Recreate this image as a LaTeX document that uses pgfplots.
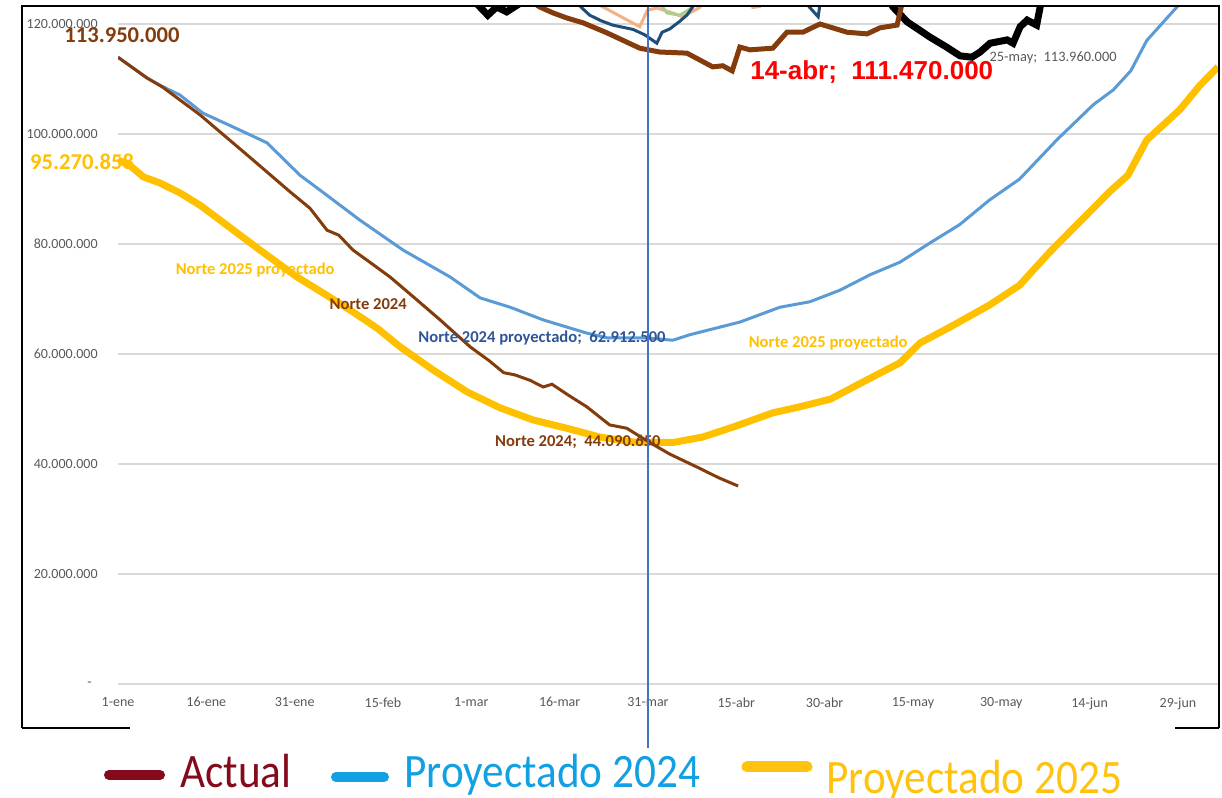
\documentclass[border=0pt]{standalone}
\usepackage{fontspec}
\setmainfont{Carlito}
\newfontfamily\legfont[FakeStretch=0.9]{Carlito}
\newfontfamily\arialb{Liberation Sans}
\usepackage{pgfplots}
\pgfplotsset{compat=1.18}
\definecolor{brownN}{HTML}{843C0C}
\definecolor{blueP}{HTML}{5B9BD5}
\definecolor{goldP}{HTML}{FFC000}
\definecolor{dkblue}{HTML}{1F4E79}
\definecolor{lblue}{HTML}{2F5597}
\definecolor{orng}{HTML}{F4B183}
\definecolor{grn}{HTML}{A9D18E}
\definecolor{todayblue}{HTML}{4472C4}
\definecolor{gridc}{HTML}{D9D9D9}
\definecolor{tickc}{HTML}{595959}
\definecolor{legred}{HTML}{840A1C}
\definecolor{legblue}{HTML}{12A0E3}
\definecolor{leggold}{HTML}{FFC20E}
\begin{document}
\begin{tikzpicture}
\path[use as bounding box] (0,0) rectangle (611pt,399pt);
\begin{axis}[
  at={(59pt,57pt)}, anchor=south west,
  scale only axis, width=550pt, height=339pt,
  xmin=0, xmax=186.8, ymin=0, ymax=123.27e6,
  clip mode=individual,
  axis line style={draw=none},
  major tick length=0pt,
  ymajorgrids=true,
  grid style={gridc, line width=0.6pt},
  ytick={0,20e6,40e6,60e6,80e6,100e6,120e6},
  yticklabels={-\hspace*{3pt},20.000.000,40.000.000,60.000.000,80.000.000,100.000.000,120.000.000},
  xtick={0,15,30,45,60,75,90,105,120,135,150,165,180},
  xticklabels={1-ene,16-ene,31-ene,15-feb,1-mar,16-mar,31-mar,15-abr,30-abr,15-may,30-may,14-jun,29-jun},
  yticklabel style={font=\fontsize{7}{8}\selectfont, text=tickc, anchor=east, inner sep=0pt, xshift=-10pt},
  xticklabel style={font=\fontsize{7}{8}\selectfont, text=tickc, anchor=north, inner sep=0pt, yshift=-6.5pt},
  scaled y ticks=false,
]
% upper (clipped) series
\addplot[orng, line width=1.5pt] coordinates {(81,125e6) (82,123.3e6) (88.6,119.5e6) (89.9,122.5e6) (91.5,122.9e6) (94.2,122e6) (95.9,121.3e6) (98.8,123e6) (99.5,125e6)};
\addplot[orng, line width=1.5pt] coordinates {(107,125e6) (107.8,123.0e6) (109,123.2e6) (110,125e6)};
\addplot[grn, line width=1.5pt] coordinates {(92,125e6) (92.5,123.1e6) (93.2,122e6) (95.4,121.6e6) (96.8,122.5e6) (97.6,123.1e6) (98.2,125e6)};
\addplot[dkblue, line width=1.5pt] coordinates {(77.5,125e6) (78.6,123.1e6) (80.1,121.6e6) (82,120.6e6) (84,119.8e6) (87.5,119.0e6) (89.5,118.0e6) (91.5,116.5e6) (92.4,118.5e6) (93.7,119.1e6) (95.3,120.4e6) (96.6,121.6e6) (97.6,123.1e6) (98.5,125e6)};
\addplot[dkblue, line width=1.5pt] coordinates {(115.8,125e6) (118.9,121.3e6) (119.4,125e6)};
\addplot[black, line width=3.5pt] coordinates {(60.5,125e6) (61.1,123.5e6) (62.8,121.6e6) (64.3,123.1e6) (66,122.2e6) (67.9,123.5e6) (68.5,125e6)};
\addplot[black, line width=3.5pt] coordinates {(130.5,125e6) (131.6,123.1e6) (134,120.4e6) (137.9,117.6e6) (140.7,115.8e6) (143,114.2e6) (145,113.96e6) (146.4,114.9e6) (148.1,116.5e6) (151,117.1e6) (152,116.5e6) (153.2,119.5e6) (154.4,120.7e6) (156,119.8e6) (156.6,123.1e6) (157,125e6)};
\addplot[brownN, line width=2.5pt] coordinates {(69,125e6) (71.6,123.1e6) (73.9,122.0e6) (76.2,121.1e6) (79,120.2e6) (83,118.4e6) (88.6,115.6e6) (92,114.9e6) (96.6,114.7e6) (101,112.2e6) (102.7,112.4e6) (104.3,111.47e6) (105.6,115.8e6) (107.3,115.3e6) (111.2,115.6e6) (113.6,118.5e6) (116.3,118.5e6) (119.2,120e6) (123.8,118.5e6) (127.2,118.2e6) (129.4,119.3e6) (132.3,119.8e6) (133.1,123.5e6) (133.5,125e6)};
% main series
\addplot[goldP, line width=3.5pt] coordinates {(0,95.27e6) (2,94.3e6) (4.3,92.2e6) (7.1,91.1e6) (10.5,89.3e6) (14,87.0e6) (19,83.0e6) (24.1,78.9e6) (30.4,74.0e6) (34.8,71.1e6) (39.4,68.0e6) (44,64.7e6) (47.9,61.3e6) (53.5,57.1e6) (59.3,53.1e6) (64.9,50.2e6) (70.5,48.0e6) (76.2,46.5e6) (81.8,44.9e6) (87.5,44.0e6) (94.2,43.9e6) (99.3,44.9e6) (104.4,46.7e6) (111.2,49.3e6) (115.8,50.4e6) (121,51.8e6) (127.2,55.3e6) (132.8,58.4e6) (136.2,62.0e6) (141.3,64.9e6) (148,68.9e6) (153.1,72.5e6) (158.2,78.5e6) (163.3,84.0e6) (168.4,89.5e6) (171.5,92.5e6) (174.7,98.9e6) (180.3,104.4e6) (183.7,108.8e6) (186.8,112.2e6)};
\addplot[blueP, line width=1.5pt] coordinates {(0,113.95e6) (4.9,110.2e6) (7.6,108.6e6) (10.5,107.1e6) (14.4,103.8e6) (19.5,101.3e6) (25.3,98.4e6) (30.9,92.5e6) (34.3,89.8e6) (41,84.4e6) (48.4,78.9e6) (56.4,74.0e6) (61.5,70.2e6) (66.6,68.5e6) (72.2,66.2e6) (79.6,63.8e6) (83,62.95e6) (90,62.91e6) (94.2,62.5e6) (97.1,63.5e6) (105.6,65.8e6) (112.4,68.5e6) (117.5,69.5e6) (122.6,71.6e6) (127.7,74.4e6) (132.8,76.7e6) (137.9,80.2e6) (142.9,83.5e6) (148,88.0e6) (153.1,91.8e6) (159.5,99.0e6) (165.6,105.3e6) (169,108.0e6) (172,111.5e6) (174.7,117e6) (180,123.3e6) (182,126e6)};
\addplot[brownN, line width=1.5pt] coordinates {(0,113.95e6) (4.9,110.2e6) (7.6,108.5e6) (10.5,106.2e6) (13.9,103.5e6) (19.5,98.4e6) (22.9,95.3e6) (29.2,89.5e6) (32.6,86.5e6) (35.5,82.5e6) (37.5,81.6e6) (39.9,78.9e6) (43,76.5e6) (46.2,74.0e6) (50.8,69.8e6) (54.7,66.2e6) (59.8,61.3e6) (63,58.8e6) (65.5,56.6e6) (67.4,56.2e6) (70,55.2e6) (72.2,54.0e6) (73.7,54.5e6) (76.5,52.5e6) (79.6,50.4e6) (83.5,47.1e6) (86.4,46.5e6) (90,44.09e6) (93.7,41.8e6) (98.8,39.2e6) (102,37.5e6) (105.3,36.0e6)};
% data labels
\node[text=brownN, font=\bfseries\fontsize{11.3}{12}\selectfont, inner sep=0] at (axis cs:0.68,118.0e6) {113.950.000};
\node[text=goldP, font=\bfseries\fontsize{11.3}{12}\selectfont, inner sep=0] at (axis cs:-6.1,94.9e6) {95.270.858};
\node[text=red, font=\arialb\bfseries\fontsize{13}{14}\selectfont, inner sep=0] at (axis cs:128.0,111.3e6) {14-abr;~ 111.470.000};
\node[text=tickc, font=\fontsize{7.2}{8}\selectfont, inner sep=0] at (axis cs:158.8,113.8e6) {25-may;~ 113.960.000};
\node[text=goldP, font=\bfseries\fontsize{8.3}{9}\selectfont, inner sep=0] at (axis cs:23.3,75.3e6) {Norte 2025 proyectado};
\node[text=brownN, font=\bfseries\fontsize{8.3}{9}\selectfont, inner sep=0] at (axis cs:42.5,69.1e6) {Norte 2024};
\node[text=lblue, font=\bfseries\fontsize{8.3}{9}\selectfont, inner sep=0] at (axis cs:72.0,62.9e6) {Norte 2024 proyectado;~ 62.912.500};
\node[text=brownN, font=\bfseries\fontsize{8.3}{9}\selectfont, inner sep=0] at (axis cs:78.1,44.0e6) {Norte 2024;~ 44.090.650};
\node[text=goldP, font=\bfseries\fontsize{8.3}{9}\selectfont, inner sep=0] at (axis cs:120.6,62.0e6) {Norte 2025 proyectado};
\draw[draw=todayblue, line width=0.7pt] (axis cs:90,123.27e6) -- (axis cs:90,-11.6e6);
\end{axis}
\begin{scope}[x=0.5pt, y=-0.5pt, yshift=399pt]
\draw[black, line width=0.8pt] (22,728) -- (22,6) -- (1219,6) -- (1219,728);
\draw[black, line width=0.8pt] (22,728) -- (130,728);
\draw[black, line width=0.8pt] (1175,728) -- (1219,728);
\draw[legred, line width=5pt, line cap=round] (109,775) -- (160,775);
\node[anchor=base west, inner sep=0, text=legred, font=\legfont\fontsize{24}{26}\selectfont] at (180,788) {Actual};
\draw[legblue, line width=5pt, line cap=round] (336,777) -- (384,777);
\node[anchor=base west, inner sep=0, text=legblue, font=\legfont\fontsize{24}{26}\selectfont] at (404,788) {Proyectado 2024};
\draw[leggold, line width=5.5pt, line cap=round] (747,767) -- (807,767);
\node[anchor=base west, inner sep=0, text=leggold, font=\legfont\fontsize{24}{26}\selectfont] at (826,794) {Proyectado 2025};
\end{scope}
\end{tikzpicture}
\end{document}
